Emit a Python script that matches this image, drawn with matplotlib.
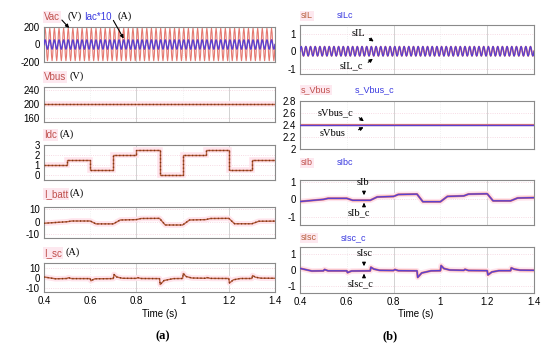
import numpy as np
import matplotlib
matplotlib.use("Agg")
import matplotlib.pyplot as plt

plt.rcParams["axes.unicode_minus"] = False

# ---- data ----
t_start, t_end = 0.4, 1.4
n_cycles = 50
vac_cycle = [0, 134, 190, 134, 0, -134, -190, -134]      # one period of Vac (V)
iac10_cycle = [0, 38, 55, 38, 0, -38, -55, -38]           # one period of Iac*10
sil_cycle = [0, 0.19, 0.27, 0.19, 0, -0.19, -0.27, -0.19]  # one period of sIL
vbus_level = 200
svbus_level = 2.4

idc_edges = [0.4, 0.5, 0.6, 0.7, 0.8, 0.9, 1.0, 1.1, 1.2, 1.3, 1.4]
idc_levels = [1.0, 1.5, 0.5, 2.0, 2.5, 0.0, 2.0, 2.5, 0.5, 1.5]

ibatt_t = [0.4, 0.5, 0.52, 0.6, 0.625, 0.7, 0.73, 0.8, 0.82, 0.9, 0.925, 1.0, 1.03, 1.1, 1.12, 1.2, 1.225, 1.3, 1.33, 1.4]
ibatt_v = [-1.4, -0.2, 0.4, 0.4, -1.9, -1.9, 1.2, 1.5, 2.4, 2.5, -2.8, -2.8, 1.2, 1.5, 2.4, 2.5, -1.8, -1.8, 0.2, 0.3]

isc_t = [0.4, 0.45, 0.5, 0.505, 0.52, 0.6, 0.603, 0.62, 0.7, 0.703, 0.715, 0.74, 0.8, 0.805, 0.82, 0.9, 0.903, 0.92, 0.96,
         1.0, 1.003, 1.015, 1.04, 1.1, 1.105, 1.12, 1.2, 1.203, 1.22, 1.25, 1.3, 1.303, 1.315, 1.34, 1.4]
isc_v = [1.0, -0.8, -0.5, 0.3, -0.6, -0.6, -2.8, -0.8, -0.6, 3.5, 1.0, -0.3, -0.4, 0.4, -0.5, -0.6, -6.5, -2.5, -0.6,
         -0.5, 4.5, 1.5, 0.0, -0.3, 0.5, -0.4, -0.5, -5.0, -1.8, -0.5, -0.5, 2.5, 0.8, -0.2, -0.3]

sib_t = ibatt_t
sib_v = [-0.12, 0.0, 0.06, 0.06, -0.05, -0.05, 0.14, 0.17, 0.28, 0.3, -0.13, -0.13, 0.17, 0.2, 0.3, 0.32, -0.08, -0.08, 0.08, 0.1]

sisc_t = isc_t
sisc_v = [0.1, -0.06, -0.05, 0.03, -0.05, -0.05, -0.16, -0.06, -0.05, 0.17, 0.06, -0.02, -0.03, 0.03, -0.04, -0.05, -0.45, -0.18, -0.05,
          -0.04, 0.27, 0.09, 0.0, -0.02, 0.04, -0.03, -0.04, -0.3, -0.12, -0.04, -0.04, 0.13, 0.05, -0.01, -0.02]

xticks = [0.4, 0.6, 0.8, 1.0, 1.2, 1.4]
xticklabels = ["0.4", "0.6", "0.8", "1", "1.2", "1.4"]

# ---- styling ----
W, H = 550, 349
red = "#e57870"
brown = "#b8603e"
dots = "#7a3216"
blue = "#5b40d0"
glow = "#ffe4ec"
sans = "Liberation Sans"
serif = "Liberation Serif"

fig = plt.figure(figsize=(W / 100, H / 100), dpi=100)
fig.patch.set_facecolor("white")


def px_axes(x0, y0, x1, y1):
    return fig.add_axes([x0 / W, 1 - y1 / H, (x1 - x0) / W, (y1 - y0) / H])


def ftext(x, y, s, **kw):
    kw.setdefault("fontsize", 7)
    kw.setdefault("va", "center")
    fig.text(x / W, 1 - y / H, s, **kw)


def farrow(x0, y0, x1, y1):
    fig.add_artist(matplotlib.patches.FancyArrowPatch(
        (x0 / W, 1 - y0 / H), (x1 / W, 1 - y1 / H), transform=fig.transFigure,
        arrowstyle="-|>", mutation_scale=5, lw=0.8, color="black"))


def style(ax, ylim, yticks, yticklabels=None, bottom=False):
    ax.set_xlim(t_start, t_end)
    ax.set_ylim(*ylim)
    ax.set_yticks(yticks)
    if yticklabels:
        ax.set_yticklabels(yticklabels)
    ax.set_xticks(xticks)
    if bottom:
        ax.set_xticklabels(xticklabels)
    else:
        ax.set_xticklabels([])
    ax.tick_params(length=0, labelsize=7, pad=3)
    for lab in ax.get_xticklabels() + ax.get_yticklabels():
        lab.set_fontfamily(sans)
    for sp in ax.spines.values():
        sp.set_color("#8a8a8a")
        sp.set_linewidth(0.8)
    for x in [0.8, 1.2]:
        ax.axvline(x, color="#d2d2d2", lw=0.7, zorder=0)
    for x in [0.6, 1.0]:
        ax.axvline(x, color="#ececec", lw=0.6, ls=":", zorder=0)
    for y in yticks:
        ax.axhline(y, color="#f4cfdc", lw=0.6, ls=":", zorder=0)


def dotted_line(ax, t, v):
    ax.plot(t, v, color=glow, lw=4, solid_capstyle="butt", zorder=1)
    ax.plot(t, v, color=brown, lw=1.0, zorder=2)
    ax.plot(t, v, color=dots, lw=1.0, ls=(0, (0.8, 1.8)), zorder=3)


def dotted_steps(ax, edges, levels):
    ax.stairs(levels, edges, color=glow, lw=4, zorder=1, baseline=None)
    ax.stairs(levels, edges, color=brown, lw=1.0, zorder=2, baseline=None)
    ax.stairs(levels, edges, color=dots, lw=1.0, ls=(0, (0.8, 1.8)), zorder=3, baseline=None)


t_wave = np.linspace(t_start, t_end, n_cycles * len(vac_cycle) + 1)
vac = np.append(np.tile(vac_cycle, n_cycles), vac_cycle[0])
iac10 = np.append(np.tile(iac10_cycle, n_cycles), iac10_cycle[0])
sil = np.append(np.tile(sil_cycle, n_cycles), sil_cycle[0])

# ---- left column (a) ----
lx0, lx1 = 44, 275
ax = px_axes(lx0, 27, lx1, 62)
ax.plot(t_wave, vac, color=red, lw=0.8, zorder=2)
ax.plot(t_wave, iac10, color=blue, lw=1.0, zorder=3)
style(ax, (-205, 205), [-200, 0, 200])

ax = px_axes(lx0, 87, lx1, 122)
dotted_line(ax, [t_start, t_end], [vbus_level, vbus_level])
style(ax, (149, 248), [160, 200, 240])

ax = px_axes(lx0, 145, lx1, 180)
dotted_steps(ax, idc_edges, idc_levels)
style(ax, (-0.45, 3.0), [0, 1, 2, 3])

ax = px_axes(lx0, 207, lx1, 238)
dotted_line(ax, ibatt_t, ibatt_v)
style(ax, (-13.2, 11.6), [-10, 0, 10])

ax = px_axes(lx0, 263, lx1, 292)
dotted_line(ax, isc_t, isc_v)
style(ax, (-14, 15), [-10, 0, 10], bottom=True)

# ---- right column (b) ----
rx0, rx1 = 300, 534
ax = px_axes(rx0, 25, rx1, 74)
ax.plot(t_wave, sil, color=red, lw=1.2, zorder=2)
ax.plot(t_wave, sil, color=blue, lw=0.9, zorder=3)
style(ax, (-1.3, 1.5), [-1, 0, 1])

ax = px_axes(rx0, 101, rx1, 149)
ax.plot([t_start, t_end], [svbus_level, svbus_level], color=red, lw=1.6, zorder=2)
ax.plot([t_start, t_end], [svbus_level, svbus_level], color=blue, lw=1.0, zorder=3)
style(ax, (2.0, 2.8), [2.0, 2.2, 2.4, 2.6, 2.8], ["2", "2.2", "2.4", "2.6", "2.8"])

ax = px_axes(rx0, 180, rx1, 225)
ax.plot(sib_t, sib_v, color=glow, lw=4, zorder=1)
ax.plot(sib_t, sib_v, color=red, lw=1.6, zorder=2)
ax.plot(sib_t, sib_v, color=blue, lw=1.0, zorder=3)
style(ax, (-1.45, 1.1), [-1, 0, 1])

ax = px_axes(rx0, 247, rx1, 293)
ax.plot(sisc_t, sisc_v, color=glow, lw=4, zorder=1)
ax.plot(sisc_t, sisc_v, color=red, lw=1.6, zorder=2)
ax.plot(sisc_t, sisc_v, color=blue, lw=1.0, zorder=3)
style(ax, (-1.4, 1.4), [-1, 0, 1], bottom=True)

# ---- labels ----
lab_red = "#c0504d"
lab_blue = "#3a3ae0"
pink_box = dict(facecolor="#fde8ef", edgecolor="none", pad=0.6)

ftext(44, 17, "Vac", color=lab_red, family=sans, bbox=pink_box)
ftext(67, 16, "(V)", family=serif, fontsize=7.5)
ftext(84, 17, "Iac*10", color=lab_blue, family=sans)
ftext(118, 16, "(A)", family=serif, fontsize=7.5)
farrow(60, 18, 71, 30)
farrow(112, 18, 125, 41)

ftext(44, 77, "Vbus", color=lab_red, family=sans, bbox=pink_box)
ftext(70, 76, "(V)", family=serif, fontsize=7.5)
ftext(44, 135, "Idc", color=lab_red, family=sans, bbox=pink_box)
ftext(60, 134, "(A)", family=serif, fontsize=7.5)
ftext(44, 194, "I_batt", color=lab_red, family=sans, bbox=pink_box)
ftext(70, 193, "(A)", family=serif, fontsize=7.5)
ftext(44, 253, "I_sc", color=lab_red, family=sans, bbox=pink_box)
ftext(66, 252, "(A)", family=serif, fontsize=7.5)

ftext(301, 16, "sIL", color=brown, family=sans, fontsize=6.5, bbox=pink_box)
ftext(337, 16, "sILc", color=lab_blue, family=sans, fontsize=6.5)
ftext(301, 90, "s_Vbus", color=lab_red, family=sans, fontsize=6.5, bbox=pink_box)
ftext(355, 90, "s_Vbus_c", color=lab_blue, family=sans, fontsize=6.5)
ftext(301, 163, "sIb", color=lab_red, family=sans, fontsize=6.5, bbox=pink_box)
ftext(337, 163, "sIbc", color=lab_blue, family=sans, fontsize=6.5)
ftext(301, 238, "sIsc", color=brown, family=sans, fontsize=6.5, bbox=pink_box)
ftext(341, 238, "sIsc_c", color=lab_blue, family=sans, fontsize=6.5)

# annotations inside (b)
ftext(352, 34, "sIL", family=serif, fontsize=7.5)
farrow(367, 37, 376, 43)
ftext(340, 66, "sIL_c", family=serif, fontsize=7.5)
farrow(366, 64, 375, 57)
ftext(318, 113, "sVbus_c", family=serif, fontsize=7.5)
farrow(357, 116, 366, 123)
ftext(320, 133, "sVbus", family=serif, fontsize=7.5)
farrow(356, 131, 366, 126)
ftext(357, 183, "sIb", family=serif, fontsize=7.5)
farrow(364, 189, 364, 198)
ftext(348, 213, "sIb_c", family=serif, fontsize=7.5)
farrow(364, 208, 364, 200)
ftext(357, 254, "sIsc", family=serif, fontsize=7.5)
farrow(364, 260, 364, 269)
ftext(348, 284, "sIsc_c", family=serif, fontsize=7.5)
farrow(364, 279, 364, 271)

ftext(160, 314, "Time (s)", family=sans, ha="center")
ftext(416, 314, "Time (s)", family=sans, ha="center")
ftext(163, 336, "(a)", family=serif, fontsize=9, weight="bold", ha="center")
ftext(390, 336, "(b)", family=serif, fontsize=9, weight="bold", ha="center")

fig.savefig("out.png", dpi=100, facecolor="white")
